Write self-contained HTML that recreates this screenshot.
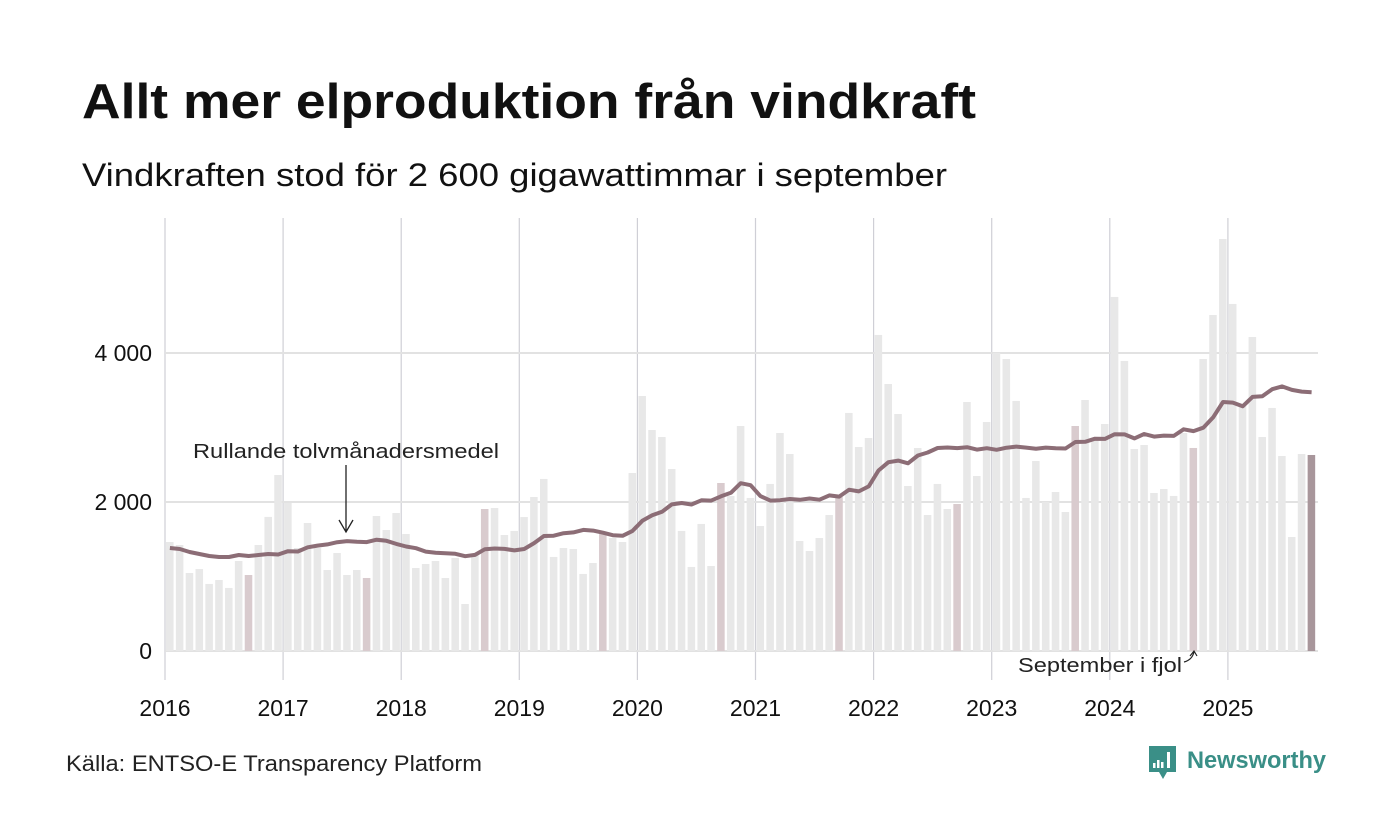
<!DOCTYPE html>
<html><head><meta charset="utf-8"><style>
body{margin:0;background:#fff;font-family:"Liberation Sans","DejaVu Sans",sans-serif;}
#wrap{position:relative;width:1400px;height:840px;overflow:hidden;}
</style></head><body>
<div id="wrap">
<svg id="svg" width="1400" height="840">
<text x="82" y="118" font-size="49" font-weight="bold" fill="#111" textLength="894" lengthAdjust="spacingAndGlyphs">Allt mer elproduktion från vindkraft</text>
<text x="82" y="186" font-size="32" fill="#111" textLength="865" lengthAdjust="spacingAndGlyphs">Vindkraften stod för 2 600 gigawattimmar i september</text>
<g id="grid"></g><g id="bars"></g><g id="line"></g><g id="axes"></g>
<text x="193" y="458" font-size="20" fill="#222" textLength="306" lengthAdjust="spacingAndGlyphs">Rullande tolvmånadersmedel</text>
<g stroke="#222" stroke-width="1.3" fill="none"><path d="M346 465 V531 M339 520 L346 532 L353 520"/></g>
<text x="1018" y="672" font-size="20" fill="#222" textLength="164" lengthAdjust="spacingAndGlyphs">September i fjol</text>
<path d="M1184 662 Q1192 660 1194 652 M1190 656 L1194 651 L1197 656" stroke="#222" stroke-width="1.2" fill="none"/>
<text x="66" y="771" font-size="22" fill="#222" textLength="416" lengthAdjust="spacingAndGlyphs">Källa: ENTSO-E Transparency Platform</text>
<g>
<path d="M1149 746 h27 v26 h-9 l-4 7 l-4 -7 h-10 z" fill="#3a8f87"/>
<rect x="1153" y="763" width="2.5" height="5" fill="#fff"/><rect x="1157" y="760" width="2.5" height="8" fill="#fff"/><rect x="1161" y="762" width="2.5" height="6" fill="#fff"/><rect x="1167" y="752" width="3" height="16" fill="#fff"/>
<text x="1187" y="768" font-size="24" font-weight="bold" fill="#3a8f87" textLength="139" lengthAdjust="spacingAndGlyphs">Newsworthy</text>
</g>
</svg>
</div>
<script>
const years=[2016,2017,2018,2019,2020,2021,2022,2023,2024,2025];
const yTicks=[0,2000,4000];
const yTickLabels=["0","2 000","4 000"];
const production=[
1463,1423,1047,1100,900,953,846,1208,1020,1423,1800,2362,
1987,1382,1718,1382,1087,1315,1020,1087,980,1812,1624,1852,
1570,1114,1168,1208,980,1248,631,1290,1906,1919,1557,1611,
1798,2067,2309,1262,1382,1369,1034,1181,1570,1517,1463,2389,
3423,2966,2872,2443,1611,1128,1705,1141,2255,2080,3020,2054,
1678,2242,2926,2644,1476,1342,1517,1825,2067,3195,2738,2859,
4242,3584,3181,2215,2725,1825,2242,1906,1973,3342,2349,3074,
4000,3919,3356,2054,2550,2000,2134,1866,3020,3369,2850,3047,
4752,3893,2711,2765,2121,2174,2081,2926,2725,3919,4510,5530,
4658,3300,4215,2872,3262,2617,1530,2644,2631];
const rollingStart=[1382,1369,1329,1302,1275,1262,1262,1288,1275,1288,1302];
const NS="http://www.w3.org/2000/svg";
const x0=165,yearW=118.1,monthW=yearW/12,yBase=651,yScale=298/4000;
const xPos=i=>x0+i*monthW;
const yPos=v=>yBase-v*yScale;
function mk(tag,attrs,parent){const e=document.createElementNS(NS,tag);for(const k in attrs)e.setAttribute(k,attrs[k]);parent.appendChild(e);return e;}
const grid=document.getElementById('grid'),axes=document.getElementById('axes');
years.forEach((yr,i)=>{
 const x=x0+i*yearW;
 const l=mk('line',{x1:x,x2:x,y1:218,y2:680,stroke:'#cfcfd6','stroke-width':1.2},grid);
 
 
 const t=mk('text',{x:x,y:716,'font-size':23,'text-anchor':'middle',fill:'#111'},axes);
 t.textContent=yr;
 
 
});
yTicks.forEach((v,i)=>{
 const y=yPos(v);
 const l=mk('line',{x1:165,x2:1318,y1:y,y2:y,stroke:'#e2e2e2','stroke-width':2},grid);
 
 
 const t=mk('text',{x:152,y:y+8,'font-size':23,'text-anchor':'end',fill:'#111'},axes);
 t.textContent=yTickLabels[i];
 
 
});
const bars=document.getElementById('bars');
production.forEach((v,i)=>{
 const last=i===production.length-1, sep=i%12===8;
 const r=mk('rect',{x:xPos(i)+1,y:yPos(v),width:monthW-2.3,height:yBase-yPos(v),fill:last?'#a8969b':(sep?'#d9cbce':'#e8e8e8')},bars);
 
 
});
const rolling=production.map((v,i)=>{
 if(i<11)return rollingStart[i];
 let s=0;for(let k=i-11;k<=i;k++)s+=production[k];return s/12;});
const d=rolling.map((v,i)=>(i?'L':'M')+(xPos(i)+monthW/2).toFixed(1)+' '+yPos(v).toFixed(1)).join(' ');
const p=mk('path',{d:d,fill:'none',stroke:'#8c6d76','stroke-width':4,'stroke-linejoin':'round'},document.getElementById('line'));


</script>
</body></html>
